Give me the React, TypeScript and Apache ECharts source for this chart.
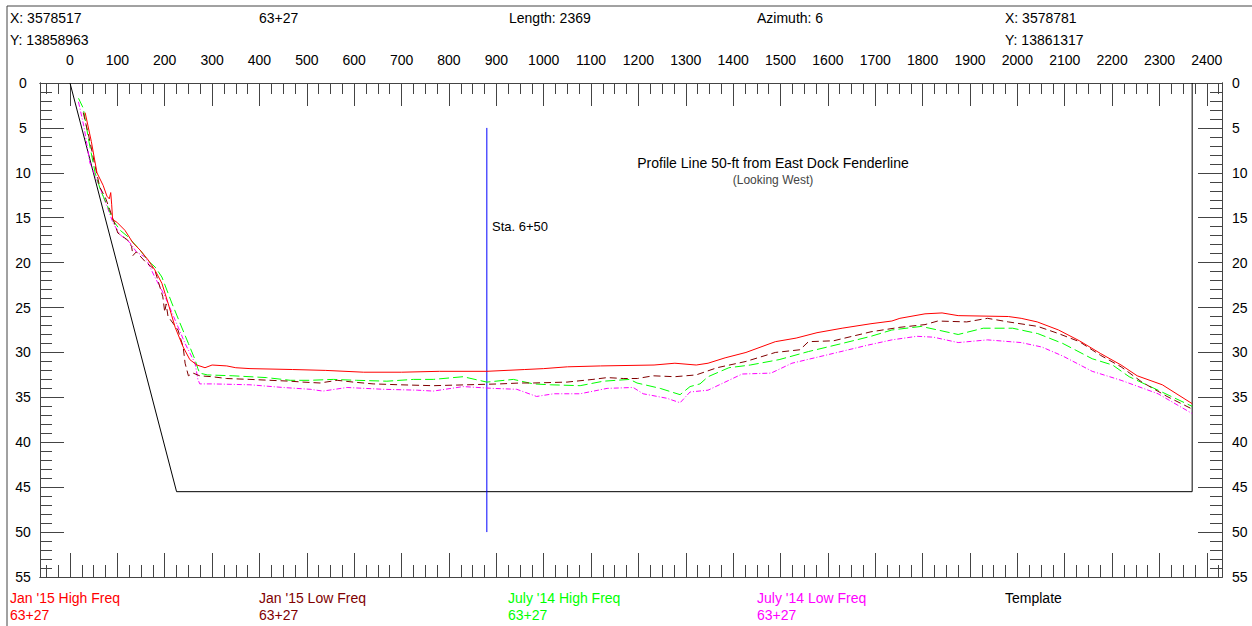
import React, { useEffect, useRef } from "react";
import * as echarts from "echarts";

// ---- data ----
const xLabelTicks = [0, 100, 200, 300, 400, 500, 600, 700, 800, 900, 1000, 1100, 1200, 1300, 1400, 1500, 1600, 1700, 1800, 1900, 2000, 2100, 2200, 2300, 2400];
const xMinorTicks = [-50, -25, 0, 25, 50, 75, 100, 125, 150, 175, 200, 225, 250, 275, 300, 325, 350, 375, 400, 425, 450, 475, 500, 525, 550, 575, 600, 625, 650, 675, 700, 725, 750, 775, 800, 825, 850, 875, 900, 925, 950, 975, 1000, 1025, 1050, 1075, 1100, 1125, 1150, 1175, 1200, 1225, 1250, 1275, 1300, 1325, 1350, 1375, 1400, 1425, 1450, 1475, 1500, 1525, 1550, 1575, 1600, 1625, 1650, 1675, 1700, 1725, 1750, 1775, 1800, 1825, 1850, 1875, 1900, 1925, 1950, 1975, 2000, 2025, 2050, 2075, 2100, 2125, 2150, 2175, 2200, 2225, 2250, 2275, 2300, 2325, 2350, 2375, 2400, 2425];
const yMajorTicks = [0, 5, 10, 15, 20, 25, 30, 35, 40, 45, 50, 55];
const yMinorTicks = [0, 1, 2, 3, 4, 5, 6, 7, 8, 9, 10, 11, 12, 13, 14, 15, 16, 17, 18, 19, 20, 21, 22, 23, 24, 25, 26, 27, 28, 29, 30, 31, 32, 33, 34, 35, 36, 37, 38, 39, 40, 41, 42, 43, 44, 45, 46, 47, 48, 49, 50, 51, 52, 53, 54, 55];

const jan15High = [[32, 3.3], [45, 6.5], [57, 10], [70, 11.4], [78, 12.6], [83, 12.9], [86, 12.2], [88, 13.5], [90, 15.2], [99, 15.5], [116, 16.4], [133, 17.8], [148, 18.6], [165, 19.7], [179, 20.8], [194, 22.3], [207, 24.5], [222, 27.2], [239, 29.4], [253, 30.8], [268, 31.4], [285, 31.7], [300, 31.4], [331, 31.5], [350, 31.7], [380, 31.8], [470, 31.9], [540, 32.0], [620, 32.2], [700, 32.2], [780, 32.1], [880, 32.1], [960, 31.9], [1000, 31.8], [1050, 31.6], [1120, 31.5], [1233, 31.4], [1277, 31.2], [1322, 31.4], [1347, 31.2], [1383, 30.6], [1427, 30.0], [1489, 28.8], [1533, 28.4], [1577, 27.8], [1630, 27.3], [1691, 26.8], [1735, 26.5], [1752, 26.2], [1805, 25.7], [1841, 25.6], [1875, 25.9], [1981, 26.0], [2008, 26.2], [2042, 26.6], [2087, 27.5], [2131, 28.7], [2175, 30.1], [2219, 31.4], [2253, 32.6], [2306, 33.6], [2369, 35.7]];

const jan15Low = [[28, 3.3], [40, 6], [52, 9], [63, 11.6], [75, 12.8], [84, 14.1], [101, 16.7], [122, 17.5], [130, 18.2], [133, 19.2], [140, 18.8], [159, 19.9], [179, 20.8], [196, 23.8], [200, 25.5], [203, 24.6], [207, 26], [228, 27.5], [239, 29.4], [243, 31.2], [250, 32.6], [260, 32.3], [274, 32.6], [300, 32.7], [330, 32.9], [380, 33.0], [465, 33.2], [492, 33.3], [528, 33.4], [564, 33.1], [598, 33.3], [640, 33.5], [697, 33.6], [767, 33.7], [838, 33.6], [908, 33.5], [950, 33.4], [978, 33.4], [1049, 33.3], [1104, 33.0], [1134, 32.8], [1168, 32.9], [1198, 32.9], [1231, 32.6], [1277, 32.7], [1322, 32.5], [1366, 31.7], [1427, 31.0], [1489, 30.0], [1541, 29.7], [1559, 28.8], [1612, 28.7], [1691, 27.7], [1752, 27.2], [1805, 26.9], [1832, 26.5], [1893, 26.6], [1937, 26.2], [1981, 26.6], [2043, 27.1], [2087, 27.9], [2131, 28.8], [2175, 30.3], [2219, 31.6], [2263, 33.3], [2316, 34.9], [2369, 36.3]];

const july14High = [[18, 1.7], [28, 2.8], [40, 6.5], [53, 10], [65, 12], [80, 13.8], [91, 15.3], [106, 16.4], [122, 17.1], [148, 18.6], [165, 19.8], [180, 20.5], [194, 21.6], [215, 24.5], [232, 26.7], [250, 29], [264, 30.8], [270, 31.8], [274, 32.3], [290, 32.5], [344, 32.6], [415, 32.8], [465, 33.1], [507, 33.1], [556, 33.0], [605, 33.1], [669, 33.2], [725, 33.0], [767, 33.0], [830, 32.7], [880, 33.3], [936, 33.0], [978, 33.5], [1014, 33.6], [1077, 33.7], [1126, 33.2], [1182, 33.0], [1197, 33.4], [1246, 34.0], [1288, 34.7], [1309, 33.8], [1330, 33.5], [1347, 32.7], [1391, 31.7], [1436, 31.4], [1497, 30.8], [1559, 29.9], [1630, 29.0], [1691, 28.2], [1735, 27.5], [1797, 27.1], [1832, 27.5], [1875, 28.0], [1928, 27.3], [1990, 27.3], [2043, 27.9], [2096, 29.0], [2158, 30.7], [2201, 31.4], [2236, 32.7], [2297, 34.2], [2369, 36.0]];

const july14Low = [[18, 2.1], [30, 5], [42, 8.9], [63, 11.6], [80, 14], [91, 15.6], [106, 16.9], [127, 17.8], [140, 18.8], [159, 19.4], [179, 21.6], [201, 23.8], [222, 26.4], [243, 29.0], [264, 31.2], [270, 33.0], [274, 33.5], [300, 33.5], [380, 33.6], [450, 33.9], [507, 34.1], [534, 34.3], [585, 33.9], [661, 34.1], [733, 34.2], [767, 34.3], [830, 33.8], [893, 34.0], [943, 34.1], [985, 34.9], [1021, 34.6], [1077, 34.6], [1134, 34.0], [1189, 33.9], [1210, 34.6], [1260, 35.1], [1288, 35.6], [1309, 34.4], [1347, 34.2], [1419, 32.4], [1480, 32.3], [1524, 31.2], [1612, 30.1], [1683, 29.2], [1735, 28.6], [1788, 28.2], [1823, 28.3], [1875, 28.9], [1937, 28.6], [2008, 28.9], [2052, 29.4], [2096, 30.4], [2158, 32.1], [2219, 33.1], [2297, 34.6], [2369, 36.8]];

const template = [[0, 0], [225, 45.5], [2369, 45.5], [2369, 0]];
const stationLine = [[880, 5], [880, 50]];

const legendNames = ["Jan '15 High Freq", "Jan '15 Low Freq", "July '14 High Freq", "July '14 Low Freq", "Template"];
const legendColors = ["#ff0000", "#800000", "#00ff00", "#ff00ff", "#000000"];
const stationText = "63+27";

const FONT = "'Liberation Sans', Arial, sans-serif";
const X_MIN = -63.3;
const X_MAX = 2432;
const AX = "#444";

export default function App() {
  const ref = useRef<HTMLDivElement>(null);
  useEffect(() => {
    const chart = echarts.init(ref.current!, null, { renderer: "svg" });
    const grid = { left: 40, top: 83, width: 1182, height: 494 };

    const xBase = (position: string, ticks: number[], len: number, labels: boolean) => ({
      type: "value",
      position,
      min: X_MIN,
      max: X_MAX,
      gridIndex: 0,
      axisLine: { show: true, onZero: false, lineStyle: { color: AX, width: 1 } },
      axisTick: { show: true, inside: true, length: len, customValues: ticks, lineStyle: { color: AX } },
      axisLabel: labels
        ? {
            show: true,
            customValues: ticks,
            margin: 16,
            color: "#000",
            fontSize: 14,
            fontFamily: FONT,
            formatter: (v: number) => String(Math.round(v)),
          }
        : { show: false },
      splitLine: { show: false },
    });
    const yBase = (position: string, ticks: number[], len: number, labels: boolean) => ({
      type: "value",
      position,
      min: 0,
      max: 55,
      inverse: true,
      gridIndex: 0,
      axisLine: { show: true, onZero: false, lineStyle: { color: AX, width: 1 } },
      axisTick: { show: true, inside: true, length: len, customValues: ticks, lineStyle: { color: AX } },
      axisLabel: labels
        ? {
            show: true,
            customValues: ticks,
            margin: position === "left" ? 17 : 10,
            align: position === "left" ? "center" : "left",
            color: "#000",
            fontSize: 14,
            fontFamily: FONT,
            formatter: (v: number) => String(Math.round(v)),
          }
        : { show: false },
      splitLine: { show: false },
    });

    const lineSeries = (name: string, data: number[][], color: string, type: any) => ({
      name,
      type: "line",
      data,
      xAxisIndex: 0,
      yAxisIndex: 0,
      symbol: "none",
      silent: true,
      lineStyle: { color, width: 1, type },
    });

    const headerTexts: any[] = [
      { t: "X: 3578517", x: 10, y: 18 },
      { t: "Y: 13858963", x: 10, y: 40 },
      { t: stationText, x: 259, y: 18 },
      { t: "Length: 2369", x: 509, y: 18 },
      { t: "Azimuth: 6", x: 757, y: 18 },
      { t: "X: 3578781", x: 1005, y: 18 },
      { t: "Y: 13861317", x: 1005, y: 40 },
    ].map((h) => ({
      type: "text",
      x: h.x,
      y: h.y,
      style: { text: h.t, fill: "#000", font: `14px ${FONT}`, textVerticalAlign: "middle" },
    }));

    const legendX = [10, 259, 508, 757, 1005];
    const legendTexts: any[] = [];
    legendNames.forEach((n, i) => {
      legendTexts.push({
        type: "text",
        x: legendX[i],
        y: 598,
        style: { text: n, fill: legendColors[i], font: `14px ${FONT}`, textVerticalAlign: "middle" },
      });
      if (i < 4) {
        legendTexts.push({
          type: "text",
          x: legendX[i],
          y: 615,
          style: { text: stationText, fill: legendColors[i], font: `14px ${FONT}`, textVerticalAlign: "middle" },
        });
      }
    });

    chart.setOption({
      animation: false,
      backgroundColor: "#ffffff",
      grid,
      xAxis: [
        xBase("top", xLabelTicks, 23, true),
        xBase("top", xMinorTicks, 11, false),
        xBase("bottom", xLabelTicks, 24, false),
        xBase("bottom", xMinorTicks, 12, false),
      ],
      yAxis: [
        yBase("left", yMajorTicks, 24, true),
        yBase("left", yMinorTicks, 12, false),
        yBase("right", yMajorTicks, 24, true),
        yBase("right", yMinorTicks, 12, false),
      ],
      series: [
        lineSeries("Template", template, "#000000", "solid"),
        lineSeries("Sta", stationLine, "#0000ff", "solid"),
        lineSeries(legendNames[3], july14Low, "#ff00ff", [5, 2, 1, 2]),
        lineSeries(legendNames[2], july14High, "#00ff00", [10, 4]),
        lineSeries(legendNames[1], jan15Low, "#800000", [7, 4]),
        lineSeries(legendNames[0], jan15High, "#ff0000", "solid"),
      ],
      graphic: [
        {
          type: "rect",
          shape: { x: 7, y: 6, width: 1270, height: 650 },
          style: { fill: "none", stroke: "#444", lineWidth: 1 },
          silent: true,
        },
        ...headerTexts,
        ...legendTexts,
        {
          type: "text",
          x: 773,
          y: 163,
          style: {
            text: "Profile Line 50-ft from East Dock Fenderline",
            fill: "#000",
            font: `14px ${FONT}`,
            textAlign: "center",
            textVerticalAlign: "middle",
          },
        },
        {
          type: "text",
          x: 773,
          y: 180,
          style: {
            text: "(Looking West)",
            fill: "#444",
            font: `12px ${FONT}`,
            textAlign: "center",
            textVerticalAlign: "middle",
          },
        },
        {
          type: "text",
          x: 492,
          y: 226,
          style: { text: "Sta. 6+50", fill: "#000", font: `13px ${FONT}`, textVerticalAlign: "middle" },
        },
      ],
    });
    return () => chart.dispose();
  }, []);
  return <div ref={ref} style={{ position: "absolute", left: 0, top: 0, width: 1252, height: 626 }} />;
}
